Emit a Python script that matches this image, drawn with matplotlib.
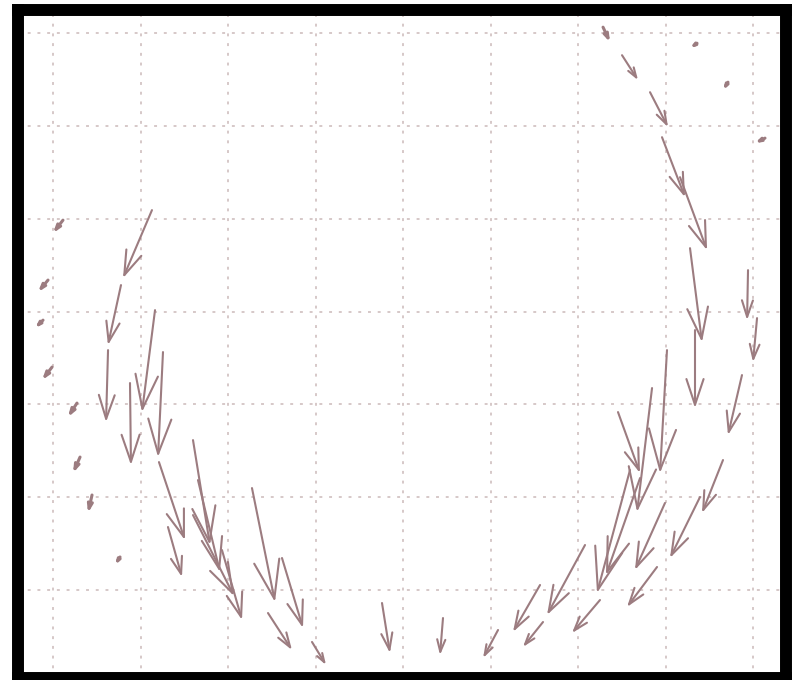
import numpy as np
import matplotlib
matplotlib.use("Agg")
import matplotlib.pyplot as plt

# arrow tails (grid units) and components
x = [0.114, -0.057, -0.114, -0.011, 0.274, 0.309, 0.446, 0.766,
     1.131, 0.777, 0.629, 1.166, 0.880, 1.257, 1.211, 1.314, 1.600, 1.657, 1.600, 1.931,
     2.274, 2.617, 2.457, 2.960, 3.760, 4.457, 5.086, 5.566, 5.600, 6.080, 6.251,
     6.903, 6.994, 6.709, 6.594, 7.394, 7.657, 7.874, 6.457, 7.017, 6.846, 7.337,
     7.280, 7.943, 8.046, 7.166, 6.960, 6.823, 6.503, 6.286, 7.360, 7.714, 8.137]
y = [3.987, 3.341, 2.909, 2.403, 2.015, 1.433, 1.024, 0.356,
     4.095, 3.287, 2.586, 3.017, 2.231, 2.565, 1.379, 0.679, 1.616, 1.185, 0.808, 0.431,
     1.099, 0.345, -0.248, -0.560, -0.140, -0.302, -0.431, 0.054, -0.345, 0.485, -0.108,
     0.248, 0.938, 1.207, 1.293, 1.002, 1.401, 2.317, 1.918, 2.586, 2.177, 2.802,
     3.685, 3.448, 2.931, 4.450, 4.881, 5.366, 5.765, 6.067, 5.894, 5.474, 4.871]
u = [-0.114, -0.114, -0.091, -0.114, -0.103, -0.080, -0.046, -0.057,
     -0.331, -0.149, -0.023, -0.149, 0.011, -0.057, 0.297, 0.160, 0.194, 0.251, 0.469, 0.229,
     0.263, 0.240, 0.274, 0.160, 0.091, -0.034, -0.171, -0.309, -0.229, -0.434, -0.320,
     -0.343, -0.343, -0.389, -0.377, -0.343, -0.240, -0.160, 0.251, -0.080, -0.171, 0.0,
     0.137, -0.011, -0.046, 0.309, 0.263, 0.206, 0.183, 0.080, -0.080, -0.057, -0.114]
v = [-0.140, -0.129, -0.086, -0.140, -0.151, -0.172, -0.194, -0.086,
     -0.733, -0.647, -0.776, -1.099, -0.884, -1.131, -0.841, -0.539, -1.131, -0.991, -0.873, -0.754,
     -1.228, -0.754, -0.399, -0.248, -0.539, -0.399, -0.302, -0.506, -0.269, -0.754, -0.356,
     -0.431, -0.722, -1.045, -1.325, -0.657, -0.571, -0.647, -0.657, -1.325, -1.336, -0.841,
     -1.013, -0.539, -0.474, -0.787, -0.647, -0.377, -0.269, -0.162, -0.054, -0.086, -0.054]

fig = plt.figure(figsize=(8, 6.8), dpi=100)
ax = fig.add_axes([0.0225, 0.003, 0.96, 0.982])
ax.set_xlim(-0.4, 8.377)
ax.set_ylim(-0.948, 6.25)
ax.set_xticks(range(9))
ax.set_yticks(range(7))
ax.tick_params(length=0, labelbottom=False, labelleft=False)
ax.grid(True, color='#d6c8c8', linestyle=(0, (1.5, 3.5)), linewidth=1.4)
ax.set_axisbelow(True)
for s in ax.spines.values():
    s.set_linewidth(8.6)
    s.set_color('black')

col = '#9c7c80'
for xi, yi, ui, vi in zip(x, y, u, v):
    p0 = ax.transData.transform((xi, yi))
    p1 = ax.transData.transform((xi + ui, yi + vi))
    L = np.hypot(*(p1 - p0)) * 72 / fig.dpi
    # small arrows look like short thick dashes
    lw = 2.2 if L < 15 else 1.5
    ax.annotate('', xy=(xi + ui, yi + vi), xytext=(xi, yi),
                arrowprops=dict(arrowstyle='->,head_length=0.33,head_width=0.11',
                                color=col, lw=lw, shrinkA=0, shrinkB=0,
                                mutation_scale=L))

fig.savefig('out.png', dpi=100)
